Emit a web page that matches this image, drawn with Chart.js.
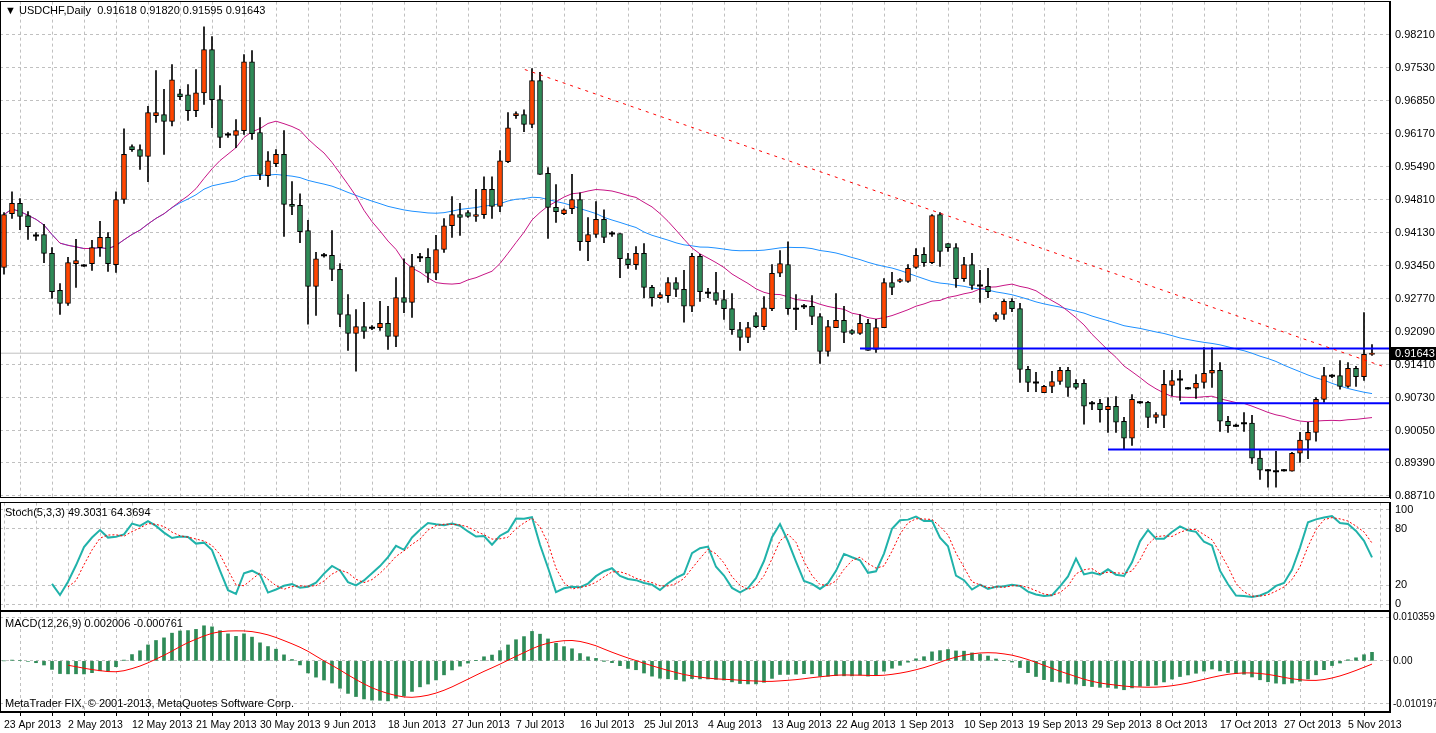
<!DOCTYPE html>
<html>
<head>
<meta charset="utf-8">
<script src="https://cdn.jsdelivr.net/npm/chart.js@4.4.0/dist/chart.umd.min.js"></script>
<style>
  html, body { margin: 0; padding: 0; background: #fff; }
  body { width: 1436px; height: 733px; position: relative; overflow: hidden; font-family: "Liberation Sans", sans-serif; }
  .pane { position: absolute; left: 0; width: 1436px; }
  .lbl { position: absolute; font-size: 11px; color: #000; white-space: pre; }
</style>
</head>
<body>
<div class="pane" style="top:-10px;height:520px"><canvas id="mainChart"></canvas></div>
<div class="pane" style="top:491px;height:132px"><canvas id="stochChart"></canvas></div>
<div class="pane" style="top:602px;height:133px"><canvas id="macdChart"></canvas></div>
<div class="lbl" style="left:5px;top:4px">&#9660; USDCHF,Daily  0.91618 0.91820 0.91595 0.91643</div>
<div class="lbl" style="left:5px;top:506px">Stoch(5,3,3) 49.3031 64.3694</div>
<div class="lbl" style="left:5px;top:617px">MACD(12,26,9) 0.002006 -0.000761</div>
<div class="lbl" style="left:5px;top:697px">MetaTrader FIX, © 2001-2013, MetaQuotes Software Corp.</div>
<script>
// ============================================
// DATA (USDCHF daily)
// ============================================
const openP = [
  .9341,.9452,.9473,.9448,.9407,.9409,.9370,.9294,.9267,.9349,
  .9345,.9349,.9382,.9403,.9347,.9481,.9590,.9584,.9570,.9654,
  .9656,.9642,.9699,.9697,.9664,.9701,.9790,.9687,.9615,.9613,
  .9623,.9765,.9619,.9530,.9555,.9574,.9471,.9469,.9417,.9302,
  .9366,.9366,.9337,.9244,.9205,.9219,.9217,.9217,.9226,.9199,
  .9279,.9269,.9362,.9362,.9329,.9378,.9427,.9450,.9454,.9446,
  .9450,.9502,.9467,.9559,.9654,.9656,.9636,.9726,.9535,.9465,
  .9452,.9462,.9481,.9394,.9409,.9440,.9411,.9411,.9359,.9347,
  .9370,.9300,.9279,.9283,.9310,.9296,.9261,.9364,.9289,.9289,
  .9275,.9256,.9213,.9197,.9242,.9219,.9256,.9329,.9347,.9256,
  .9261,.9261,.9240,.9168,.9217,.9232,.9211,.9205,.9226,.9172,
  .9217,.9310,.9312,.9312,.9341,.9368,.9351,.9450,.9390,.9382,
  .9318,.9347,.9304,.9302,.9234,.9244,.9271,.9256,.9131,.9104,
  .9083,.9096,.9106,.9129,.9102,.9102,.9061,.9061,.9048,.9055,
  .9024,.8989,.9063,.9063,.9032,.9036,.9098,.9110,.9092,.9092,
  .9104,.9123,.9129,.9024,.9015,.9020,.9020,.8948,.8923,.8921,
  .8923,.8921,.8958,.8985,.9001,.9069,.9118,.9118,.9096,.9133,
  .9116,.91618
];
const highP = [
  .9454,.9497,.9483,.9456,.9413,.9430,.9382,.9308,.9362,.9399,
  .9347,.9397,.9436,.9413,.9497,.9627,.9594,.9594,.9673,.9747,
  .9708,.9759,.9708,.9718,.9749,.9837,.9817,.9716,.9619,.9646,
  .9780,.9788,.9650,.9580,.9584,.9623,.9518,.9493,.9438,.9372,
  .9370,.9417,.9349,.9285,.9254,.9269,.9221,.9271,.9261,.9320,
  .9359,.9368,.9370,.9380,.9407,.9442,.9487,.9473,.9458,.9502,
  .9528,.9528,.9582,.9660,.9662,.9666,.9751,.9743,.9547,.9512,
  .9462,.9533,.9495,.9444,.9477,.9460,.9415,.9411,.9370,.9384,
  .9390,.9304,.9289,.9320,.9320,.9335,.9370,.9368,.9298,.9331,
  .9294,.9287,.9228,.9228,.9248,.9281,.9347,.9376,.9394,.9285,
  .9265,.9283,.9246,.9232,.9287,.9261,.9213,.9244,.9234,.9234,
  .9318,.9331,.9318,.9347,.9380,.9382,.9450,.9454,.9390,.9390,
  .9362,.9370,.9335,.9339,.9248,.9275,.9277,.9267,.9137,.9125,
  .9098,.9127,.9135,.9135,.9110,.9110,.9065,.9069,.9073,.9075,
  .9032,.9079,.9065,.9065,.9042,.9129,.9129,.9129,.9094,.9120,
  .9176,.9176,.9145,.9034,.9018,.9042,.9036,.8964,.8925,.8962,
  .8925,.8960,.9001,.9022,.9073,.9135,.9120,.9149,.9145,.9137,
  .9248,.91820
];
const lowP = [
  .9327,.9442,.9419,.9399,.9397,.9351,.9277,.9244,.9263,.9300,
  .9343,.9335,.9364,.9333,.9331,.9473,.9580,.9543,.9518,.9640,
  .9574,.9633,.9687,.9644,.9652,.9677,.9629,.9588,.9609,.9588,
  .9615,.9605,.9522,.9508,.9549,.9405,.9450,.9392,.9224,.9242,
  .9362,.9314,.9219,.9170,.9127,.9195,.9213,.9211,.9172,.9178,
  .9248,.9238,.9353,.9310,.9316,.9372,.9403,.9407,.9444,.9436,
  .9442,.9442,.9456,.9557,.9648,.9621,.9629,.9533,.9401,.9434,
  .9450,.9452,.9376,.9355,.9403,.9392,.9405,.9320,.9339,.9337,
  .9279,.9261,.9277,.9269,.9281,.9228,.9250,.9271,.9279,.9265,
  .9234,.9203,.9170,.9186,.9217,.9213,.9252,.9322,.9244,.9213,
  .9256,.9223,.9143,.9158,.9217,.9186,.9203,.9203,.9170,.9166,
  .9217,.9285,.9310,.9310,.9339,.9343,.9349,.9343,.9374,.9300,
  .9312,.9296,.9269,.9279,.9230,.9234,.9250,.9104,.9085,.9085,
  .9083,.9083,.9100,.9075,.9090,.9018,.9048,.9022,.9001,.9001,
  .8966,.8974,.9061,.9011,.9020,.9011,.9077,.9067,.9090,.9071,
  .9092,.9094,.9003,.9001,.9013,.9003,.8937,.8904,.8888,.8888,
  .8921,.8921,.8939,.8947,.8983,.9063,.9114,.9090,.9094,.9096,
  .9108,.91595
];
const closeP = [
  .9450,.9473,.9446,.9425,.9407,.9370,.9291,.9267,.9351,.9355,
  .9345,.9382,.9403,.9349,.9481,.9574,.9584,.9570,.9660,.9660,
  .9642,.9728,.9693,.9664,.9701,.9790,.9687,.9609,.9615,.9623,
  .9765,.9617,.9533,.9561,.9574,.9471,.9467,.9415,.9302,.9359,
  .9366,.9337,.9244,.9205,.9219,.9209,.9217,.9226,.9199,.9279,
  .9269,.9343,.9362,.9329,.9378,.9427,.9450,.9444,.9446,.9450,
  .9502,.9467,.9561,.9629,.9658,.9636,.9726,.9533,.9465,.9456,
  .9460,.9481,.9394,.9409,.9440,.9403,.9411,.9359,.9347,.9370,
  .9300,.9279,.9285,.9310,.9296,.9261,.9364,.9291,.9289,.9273,
  .9256,.9213,.9197,.9217,.9219,.9258,.9329,.9349,.9256,.9256,
  .9261,.9240,.9168,.9219,.9232,.9207,.9205,.9226,.9170,.9217,
  .9310,.9300,.9316,.9339,.9366,.9351,.9448,.9374,.9382,.9318,
  .9347,.9304,.9304,.9291,.9244,.9271,.9256,.9131,.9104,.9104,
  .9096,.9106,.9129,.9094,.9094,.9055,.9061,.9048,.9055,.9022,
  .8989,.9069,.9063,.9032,.9038,.9100,.9108,.9110,.9092,.9102,
  .9123,.9129,.9024,.9015,.9015,.9020,.8948,.8923,.8923,.8921,
  .8923,.8958,.8985,.9001,.9069,.9118,.9118,.9096,.9133,.9116,
  .9162,.91643
];
const dateLabels = ['23 Apr 2013','2 May 2013','12 May 2013','21 May 2013','30 May 2013','9 Jun 2013',
  '18 Jun 2013','27 Jun 2013','7 Jul 2013','16 Jul 2013','25 Jul 2013','4 Aug 2013','13 Aug 2013',
  '22 Aug 2013','1 Sep 2013','10 Sep 2013','19 Sep 2013','29 Sep 2013','8 Oct 2013','17 Oct 2013',
  '27 Oct 2013','5 Nov 2013'];
const priceTicks = [0.98210,0.97530,0.96850,0.96170,0.95490,0.94810,0.94130,0.93450,0.92770,0.92090,0.91410,0.90730,0.90050,0.89390,0.88710];
const stochTicks = [100,80,20,0];
const macdTicks = [0.010359,0,-0.010197];
const macdTickLabels = ['0.010359','0.00','-0.010197'];
// horizontal support/resistance lines: start bar and price
const levelStart = [107, 147, 138];
const levelPrice = [0.9174, 0.9061, 0.8966];
// trend line [bar, price]
const trendFrom = [65.1, 0.9749];
const trendTo = [172.4, 0.9137];

const N = closeP.length;
const X_MIN = -0.5, X_MAX = 173.25;
const GRID = '#c0c0c0';
const FONT = { family: 'Liberation Sans', size: 11 };
const SMALL_FONT = { family: 'Liberation Sans', size: 10 };
const DATE_FONT = { family: 'Liberation Sans', size: 10.5 };

// ============================================
// INDICATORS
// ============================================
function sma(src, p) {
  return src.map((_, i) => {
    const from = Math.max(0, i - p + 1);
    let s = 0, n = 0;
    for (let j = from; j <= i; j++) { if (src[j] == null) return null; s += src[j]; n++; }
    return s / n;
  });
}
function smaStrict(src, p) {
  return src.map((_, i) => {
    if (i < p - 1) return null;
    let s = 0;
    for (let j = i - p + 1; j <= i; j++) { if (src[j] == null) return null; s += src[j]; }
    return s / p;
  });
}
function ema(src, p) {
  const k = 2 / (p + 1);
  const out = [];
  src.forEach((v, i) => out.push(i === 0 ? v : out[i - 1] + k * (v - out[i - 1])));
  return out;
}
const ma20 = sma(closeP, 20);
const ma50 = sma(closeP, 50);

const stochMain = closeP.map((_, i) => {
  if (i < 6) return null;
  let num = 0, den = 0;
  for (let j = i - 2; j <= i; j++) {
    const hh = Math.max(...highP.slice(j - 4, j + 1));
    const ll = Math.min(...lowP.slice(j - 4, j + 1));
    num += closeP[j] - ll; den += hh - ll;
  }
  return den ? 100 * num / den : 50;
});
const stochSignal = smaStrict(stochMain, 3);

const e12 = ema(closeP, 12), e26 = ema(closeP, 26);
const macdMain = closeP.map((_, i) => e12[i] - e26[i]);
const macdSignal = smaStrict(macdMain, 9);

// ============================================
// HELPERS
// ============================================
const idx = closeP.map((_, i) => i);
const gridTicks = [];
for (let i = 0; i <= 172; i += 4) gridTicks.push(i);

function xScale(showLabels) {
  return {
    type: 'linear', min: X_MIN, max: X_MAX, offset: false,
    afterBuildTicks: ax => { ax.ticks = gridTicks.map(v => ({ value: v })); },
    afterFit: ax => { ax.height = showLabels ? 23 : 0; },
    grid: { color: GRID, drawTicks: showLabels, tickLength: 4, tickColor: '#000' },
    border: { display: showLabels, color: '#000', dash: [3, 3] },
    ticks: {
      display: showLabels, color: '#000', font: DATE_FONT, padding: 3, maxRotation: 0, autoSkip: false, align: 'start',
      callback: v => (v % 8 === 0 ? dateLabels[v / 8] : '')
    }
  };
}
function yScale(min, max, tickVals, fmt, font, pad) {
  return {
    position: 'right', min, max,
    afterBuildTicks: ax => { ax.ticks = tickVals.map(v => ({ value: v })); },
    afterFit: ax => { ax.width = 46; },
    grid: { color: GRID, drawTicks: false },
    border: { color: '#000', dash: [3, 3] },
    ticks: { color: '#000', font: font || FONT, padding: pad == null ? 5 : pad, callback: fmt }
  };
}
const framePlugin = {
  id: 'frame',
  afterDraw(chart) {
    const a = chart.chartArea, ctx = chart.ctx;
    ctx.save();
    ctx.strokeStyle = '#000'; ctx.lineWidth = 1;
    ctx.strokeRect(Math.floor(a.left) + 0.5, Math.floor(a.top) + 0.5, Math.round(a.right - a.left) - 1, Math.round(a.bottom - a.top) - 1);
    ctx.restore();
  }
};
const priceBoxPlugin = {
  id: 'priceBox',
  afterDraw(chart) {
    const y = Math.round(chart.scales.y.getPixelForValue(closeP[N - 1]));
    const ctx = chart.ctx, x = chart.chartArea.right + 1;
    ctx.save();
    ctx.fillStyle = '#000';
    ctx.fillRect(x, y - 6, 45, 13);
    ctx.fillStyle = '#fff';
    ctx.font = '11px "Liberation Sans"';
    ctx.textBaseline = 'middle';
    ctx.fillText(closeP[N - 1].toFixed(5), x + 4, y + 1);
    ctx.restore();
  }
};
const baseOpts = {
  responsive: true, maintainAspectRatio: false, animation: false,
  plugins: { legend: { display: false }, tooltip: { enabled: false } },
  elements: { point: { radius: 0 }, line: { tension: 0 } }
};
const noPad = { autoPadding: false, padding: 0 };

// ============================================
// MAIN PRICE CHART
// ============================================
const isDoji = idx.map(i => Math.abs(openP[i] - closeP[i]) < 0.00009);
const bodyIdx = idx.filter(i => !isDoji[i]);
new Chart(document.getElementById('mainChart'), {
  data: {
    datasets: [
      { type: 'line', data: [{ x: X_MIN, y: closeP[N - 1] }, { x: X_MAX, y: closeP[N - 1] }], borderColor: '#c0c0c0', borderWidth: 1, order: 9 },
      { type: 'line', data: idx.map(i => ({ x: i, y: ma50[i] })), borderColor: '#1e90ff', borderWidth: 1, order: 8 },
      { type: 'line', data: idx.map(i => ({ x: i, y: ma20[i] })), borderColor: '#c71585', borderWidth: 1, order: 7 },
      { type: 'bar', data: idx.map(i => ({ x: i, y: [lowP[i], highP[i]] })), backgroundColor: '#000', barThickness: 1, grouped: false, order: 6 },
      { type: 'bar', data: bodyIdx.map(i => ({ x: i, y: [openP[i], closeP[i]] })),
        backgroundColor: bodyIdx.map(i => closeP[i] > openP[i] ? '#ff4500' : '#2e8b57'),
        borderColor: '#000', borderWidth: 1, borderSkipped: false, barThickness: 5, grouped: false, order: 5 },
      { type: 'scatter', data: idx.filter(i => isDoji[i]).map(i => ({ x: i, y: closeP[i] })),
        pointStyle: 'line', pointRadius: 3, borderColor: '#000', borderWidth: 2, order: 4 },
      ...levelPrice.map((p, k) => ({ type: 'line', data: [{ x: levelStart[k], y: p }, { x: X_MAX, y: p }], borderColor: '#0000ff', borderWidth: 2, order: 3 })),
      { type: 'line', data: [{ x: trendFrom[0], y: trendFrom[1] }, { x: trendTo[0], y: trendTo[1] }], borderColor: '#ff0000', borderWidth: 1, borderDash: [3, 5], order: 2 }
    ]
  },
  options: {
    ...baseOpts,
    layout: noPad,
    scales: { x: xScale(false), y: yScale(0.8865, 0.9889, priceTicks, v => v.toFixed(5)) }
  },
  plugins: [framePlugin, priceBoxPlugin]
});

// ============================================
// STOCHASTIC
// ============================================
new Chart(document.getElementById('stochChart'), {
  data: {
    datasets: [
      { type: 'line', data: idx.map(i => ({ x: i, y: stochSignal[i] })), borderColor: '#ff0000', borderWidth: 1, borderDash: [2, 2] },
      { type: 'line', data: idx.map(i => ({ x: i, y: stochMain[i] })), borderColor: '#20b2aa', borderWidth: 2 }
    ]
  },
  options: {
    ...baseOpts,
    layout: noPad,
    scales: { x: xScale(false), y: yScale(-7.4, 107.4, stochTicks, v => String(v)) }
  },
  plugins: [framePlugin]
});

// ============================================
// MACD
// ============================================
new Chart(document.getElementById('macdChart'), {
  data: {
    datasets: [
      { type: 'line', data: idx.map(i => ({ x: i, y: macdSignal[i] })), borderColor: '#ff0000', borderWidth: 1, order: 1 },
      { type: 'bar', data: idx.map(i => ({ x: i, y: macdMain[i] })), backgroundColor: '#2e8b57', barThickness: 3, order: 2 }
    ]
  },
  options: {
    ...baseOpts,
    layout: noPad,
    scales: {
      x: xScale(true),
      y: yScale(-0.0121, 0.0118, macdTicks, (v, i) => macdTickLabels[i], SMALL_FONT, 3)
    }
  },
  plugins: [framePlugin]
});
</script>
</body>
</html>
